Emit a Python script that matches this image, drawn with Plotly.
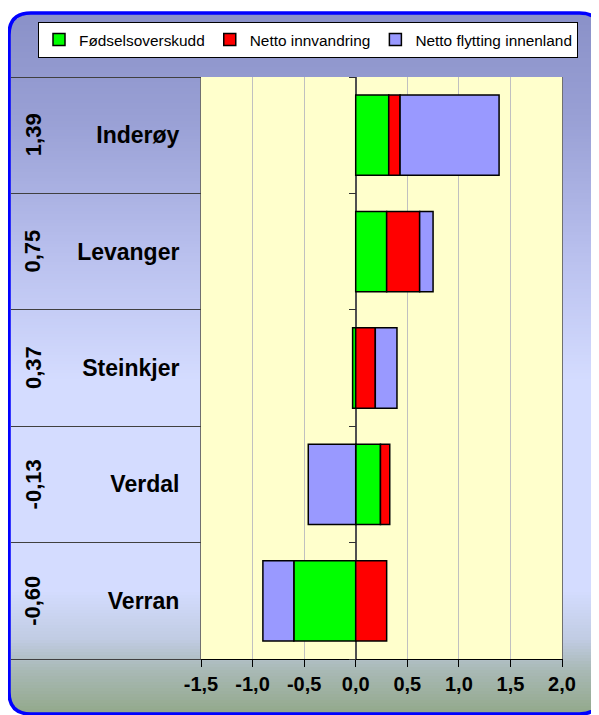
import math
import plotly.graph_objects as go

# ---------------- data ----------------
categories = ["Inderøy", "Levanger", "Steinkjer", "Verdal", "Verran"]
fodselsoverskudd = [0.32, 0.30, -0.03, 0.24, -0.60]
netto_innvandring = [0.11, 0.32, 0.19, 0.09, 0.30]
netto_innenland = [0.96, 0.13, 0.21, -0.46, -0.30]
totals = [1.39, 0.75, 0.37, -0.13, -0.60]
x_ticks = [-1.5, -1.0, -0.5, 0.0, 0.5, 1.0, 1.5, 2.0]
x_ticktext = ["-1,5", "-1,0", "-0,5", "0,0", "0,5", "1,0", "1,5", "2,0"]
series_names = ["Fødselsoverskudd", "Netto innvandring", "Netto flytting innenland"]
series_colors = ["#00ff00", "#ff0000", "#9999ff"]

# ---------------- geometry (reference pixels) ----------------
OFF = 8                      # page body margin of the html page
W, H = 599 - OFF, 715 - OFF  # figure size so that the page is exactly filled
PL, PR, PT, PB = 201, 562, 77, 659
FONT = "Arial, 'Liberation Sans', sans-serif"


def fx(px):
    return (px - OFF) / W


def fy(py):
    return 1 - (py - OFF) / H


X_RANGE = [-1.5, 2.0]
zero_px = PL + (0 - X_RANGE[0]) / (X_RANGE[1] - X_RANGE[0]) * (PR - PL)
boundaries = [i - 0.5 for i in range(len(categories) + 1)]

fig = go.Figure()
for name, vals, col in zip(series_names,
                           [fodselsoverskudd, netto_innvandring, netto_innenland],
                           series_colors):
    fig.add_trace(go.Bar(
        y=categories, x=vals, name=name, orientation="h",
        marker=dict(color=col, line=dict(color="black", width=1.5)),
        hoverinfo="skip",
    ))

# invisible helper traces so the two boundary-tick axes get drawn
for ax in ["y2", "y3"]:
    fig.add_trace(go.Scatter(
        x=[0], y=[boundaries[0]], yaxis=ax, mode="markers",
        marker=dict(opacity=0, size=1), showlegend=False, hoverinfo="skip",
    ))

# ---------------- background decoration ----------------
shapes = []
bx0, bx1, by0, by1, rad = 9, 601.5, 13, 714, 22
stops = [
    (13, (138, 145, 200)),
    (120, (153, 160, 213)),
    (250, (184, 191, 237)),
    (380, (212, 220, 255)),
    (590, (212, 220, 255)),
    (640, (192, 203, 226)),
    (668, (170, 186, 184)),
    (714, (146, 168, 138)),
]


def grad(py):
    if py <= stops[0][0]:
        return stops[0][1]
    for (a, ca), (b, cb) in zip(stops[:-1], stops[1:]):
        if a <= py <= b:
            t = (py - a) / (b - a)
            return tuple(round(ca[k] + t * (cb[k] - ca[k])) for k in range(3))
    return stops[-1][1]


band = 3
y = by0
while y < by1:
    y2 = min(y + band, by1)
    m = (y + y2) / 2
    inset = 0
    if m < by0 + rad:
        d = by0 + rad - m
        inset = rad - math.sqrt(max(rad * rad - d * d, 0))
    elif m > by1 - rad:
        d = m - (by1 - rad)
        inset = rad - math.sqrt(max(rad * rad - d * d, 0))
    c = grad(m)
    shapes.append(dict(
        type="rect", xref="paper", yref="paper", layer="below",
        x0=fx(bx0 + inset), x1=fx(bx1 - inset), y0=fy(y2 + 0.5), y1=fy(y),
        fillcolor=f"rgb({c[0]},{c[1]},{c[2]})", line=dict(width=0),
    ))
    y = y2

# yellow plot area
shapes.append(dict(
    type="rect", xref="paper", yref="paper", layer="below",
    x0=fx(PL), x1=fx(PR), y0=fy(PB), y1=fy(PT),
    fillcolor="#ffffcc", line=dict(width=0),
))

# rounded blue frame
path = (
    f"M {fx(bx0 + rad)},{fy(by0)} L {fx(bx1 - rad)},{fy(by0)} "
    f"Q {fx(bx1)},{fy(by0)} {fx(bx1)},{fy(by0 + rad)} "
    f"L {fx(bx1)},{fy(by1 - rad)} Q {fx(bx1)},{fy(by1)} {fx(bx1 - rad)},{fy(by1)} "
    f"L {fx(bx0 + rad)},{fy(by1)} Q {fx(bx0)},{fy(by1)} {fx(bx0)},{fy(by1 - rad)} "
    f"L {fx(bx0)},{fy(by0 + rad)} Q {fx(bx0)},{fy(by0)} {fx(bx0 + rad)},{fy(by0)} Z"
)
shapes.append(dict(type="path", xref="paper", yref="paper", path=path,
                   line=dict(color="#0000ff", width=3.5), layer="above"))

# totals (rotated) in the left strip
annotations = []
for cat, tot in zip(categories, totals):
    annotations.append(dict(
        x=fx(33), y=cat, xref="paper", yref="y", showarrow=False,
        text=f"{tot:.2f}".replace(".", ","), textangle=-90,
        font=dict(family=FONT, size=22, color="black", weight="bold"),
        xanchor="center", yanchor="middle",
    ))

fig.update_layout(
    width=W, height=H,
    margin=dict(l=0, r=0, t=0, b=0, autoexpand=False),
    paper_bgcolor="white", plot_bgcolor="rgba(0,0,0,0)",
    barmode="relative", bargap=0.31,
    font=dict(family=FONT, color="black"),
    showlegend=True,
    legend=dict(
        orientation="h", x=fx(38), y=fy(22), xanchor="left", yanchor="top",
        bgcolor="white", bordercolor="black", borderwidth=1,
        font=dict(family=FONT, size=15.4, color="black"), traceorder="normal",
    ),
    xaxis=dict(
        domain=[fx(PL), fx(PR)], range=X_RANGE, automargin=False,
        tickvals=x_ticks, ticktext=x_ticktext,
        ticks="outside", ticklen=7, tickcolor="black", tickwidth=1,
        showline=True, linecolor="black", linewidth=1,
        showgrid=True, gridcolor="#c0c0c0", gridwidth=1,
        zeroline=True, zerolinecolor="#505050", zerolinewidth=1.5,
        tickfont=dict(family=FONT, size=20, color="black", weight="bold"),
        fixedrange=True,
    ),
    yaxis=dict(
        domain=[fy(PB), fy(PT)], automargin=False,
        categoryorder="array", categoryarray=categories, autorange="reversed",
        ticks="", showline=True, mirror=True, linecolor="#707070", linewidth=1,
        showgrid=False, zeroline=False,
        tickfont=dict(family=FONT, size=23, color="black", weight="bold"),
        ticklabelstandoff=16, fixedrange=True,
    ),
    yaxis2=dict(
        overlaying="y", anchor="free", position=fx(PL), side="left",
        automargin=False,
        range=[boundaries[-1], boundaries[0]], tickvals=boundaries,
        ticks="outside", ticklen=PL - 11, tickcolor="#404040", tickwidth=1,
        showticklabels=False, showgrid=False, zeroline=False, showline=False,
        fixedrange=True,
    ),
    yaxis3=dict(
        overlaying="y", anchor="free", position=fx(zero_px), side="left",
        automargin=False,
        range=[boundaries[-1], boundaries[0]], tickvals=boundaries,
        ticks="outside", ticklen=7, tickcolor="#303030", tickwidth=1,
        showticklabels=False, showgrid=False, zeroline=False, showline=False,
        fixedrange=True,
    ),
    shapes=shapes,
    annotations=annotations,
)

fig.write_html("out.html")
